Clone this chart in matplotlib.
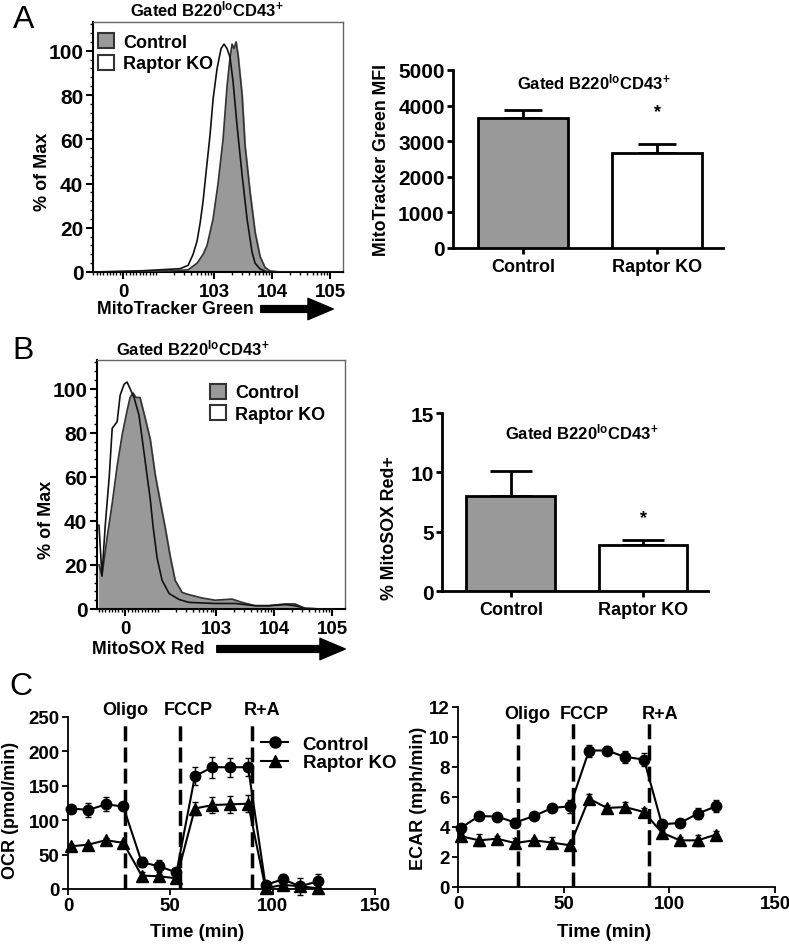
import numpy as np
import matplotlib
matplotlib.use("Agg")
import matplotlib.pyplot as plt
from matplotlib.patches import Patch
from matplotlib.lines import Line2D
from matplotlib.ticker import MultipleLocator, FixedLocator, NullFormatter

plt.rcParams['font.family'] = ['Liberation Sans', 'DejaVu Sans']
plt.rcParams['font.weight'] = 'bold'
plt.rcParams['axes.labelweight'] = 'bold'
plt.rcParams['mathtext.fontset'] = 'custom'
plt.rcParams['mathtext.rm'] = 'Liberation Sans:bold'
plt.rcParams['mathtext.it'] = 'Liberation Sans:bold'
plt.rcParams['mathtext.bf'] = 'Liberation Sans:bold'

W, H = 789, 945
GATE = r'Gated B220$^{\mathrm{lo}}$CD43$^{\mathrm{+}}$'
GREY = '#999999'

groups = ['Control', 'Raptor KO']

# A: MitoTracker Green histograms (fluorescence, % of max)
mtg_ctrl_x = [-90, 51, 174, 356, 508, 645, 755, 959, 1169, 1426, 1671, 1884, 2037,
              2208, 2388, 2588, 3034, 3414, 4169, 5082, 6194, 7551, 9204, 13700, 170000]
mtg_ctrl_y = [0, 0.3, 0.5, 1, 4, 8, 12, 24, 40, 60, 84, 97, 103,
              101, 104, 98, 80, 57, 36, 18, 7, 2, 0.5, 0, 0]
mtg_ko_x = [-90, 51, 117, 259, 356, 434, 508, 573, 645, 726, 851, 959, 1125, 1318,
            1483, 1671, 1884, 2123, 2489, 3034, 3698, 4508, 5082, 6194, 8185, 170000]
mtg_ko_y = [0, 0.5, 1, 1.5, 3, 8, 14, 22, 32, 45, 62, 78, 92, 101,
            103, 101, 97, 86, 66, 44, 24, 9, 4, 1.4, 0, 0]

# B: MitoSOX Red histograms
msx_ctrl_x = [-79, -70, -54, -39, -24, -9, 6, 15, 24, 33, 45, 60, 76, 91, 108, 132, 161,
              196, 259, 341, 573, 959, 1884, 2800, 4690, 8185, 15450, 22960, 34120, 67100]
msx_ctrl_y = [20, 15, 33, 48, 65, 79, 90, 96, 98, 96, 96, 87, 77, 61, 49, 37, 24,
              13, 7.5, 6.5, 5, 4, 4.5, 3, 1.5, 1.5, 2.3, 2.3, 0.3, 0]
msx_ko_x = [-79, -70, -60, -48, -39, -24, -15, -3, 6, 15, 27, 42, 51, 67, 76, 85, 97, 117,
            155, 230, 341, 959, 2123, 4690, 8185, 15450, 22960, 34120, 67100]
msx_ko_y = [38, 15, 38, 60, 82, 85, 97, 102, 103, 100, 96, 88, 78, 60, 50, 37, 23, 13,
            7, 4.3, 3, 2.5, 2.5, 1.5, 1.5, 2, 1.5, 0.3, 0]

# bar summaries
mtg_mfi = [3660, 2670]
mtg_mfi_sem = [225, 245]
msx_pct = [8.0, 3.9]
msx_pct_sem = [2.1, 0.42]

# C: Seahorse traces
seahorse_time = [1.5, 10, 18.5, 27, 36, 44.5, 53, 62, 70.5, 79, 88, 96.5, 105, 113.5, 122]
ocr_ctrl = [117, 115, 123, 120, 39, 33, 24, 164, 177, 177, 177, 6, 14, 4, 11]
ocr_ctrl_sem = [4, 10, 10, 5, 7, 9, 5, 13, 15, 14, 13, 5, 8, 12, 11]
ocr_ko = [62, 64.5, 71, 67, 19.5, 18.5, 15.5, 117, 122, 123, 124, 1, 6, 4, 1]
ocr_ko_sem = [3, 3, 3, 3, 5, 4, 4, 10, 12, 12, 12, 2, 2, 2, 2]
ecar_ctrl = [3.96, 4.73, 4.7, 4.3, 4.73, 5.27, 5.38, 9.1, 9.1, 8.67, 8.5, 4.18, 4.27, 4.89, 5.38]
ecar_ctrl_sem = [0.25, 0.2, 0.2, 0.3, 0.2, 0.2, 0.45, 0.4, 0.3, 0.4, 0.45, 0.2, 0.15, 0.35, 0.4]
ecar_ko = [3.38, 3.11, 3.22, 2.93, 3.11, 2.96, 2.78, 5.89, 5.27, 5.33, 5.0, 3.62, 3.11, 3.11, 3.49]
ecar_ko_sem = [0.2, 0.4, 0.2, 0.35, 0.15, 0.35, 0.15, 0.3, 0.2, 0.35, 0.25, 0.15, 0.25, 0.35, 0.25]
injections = ['Oligo', 'FCCP', 'R+A']
ocr_inj_time = [28, 54.7, 90]
ecar_inj_time = [28.4, 54.5, 90.5]


def rect(x0, y0, x1, y1):
    # pixel box (top-left origin) -> figure fraction
    return [x0 / W, 1 - y1 / H, (x1 - x0) / W, (y1 - y0) / H]


def flow_hist(ax, cx, cy, kx, ky, xmin):
    ax.set_xscale('symlog', linthresh=100, linscale=0.513)
    ax.fill_between(kx, ky, color='white', zorder=1)
    ax.fill_between(cx, cy, color=GREY, zorder=2)
    ax.plot(cx, cy, color='#333333', lw=1.2, zorder=3)
    ax.plot(kx, ky, color='#111111', lw=1.2, zorder=3)
    ax.set_xlim(xmin, 1.67e5)
    ax.set_ylim(0, 113)
    ax.xaxis.set_major_locator(FixedLocator([0, 1e3, 1e4, 1e5]))
    ax.set_xticklabels(['0', '103', '104', '105'])
    minors = [s * v for v in range(10, 100, 10) for s in (-1, 1)]
    minors += [m * 10 ** e for e in (2, 3, 4) for m in range(1, 10)]
    ax.xaxis.set_minor_locator(FixedLocator(minors))
    ax.xaxis.set_minor_formatter(NullFormatter())
    ax.yaxis.set_major_locator(MultipleLocator(20))
    ax.yaxis.set_minor_locator(MultipleLocator(4))
    for s in ('top', 'right'):
        ax.spines[s].set_color('#666666')
        ax.spines[s].set_linewidth(1.0)
    for s in ('left', 'bottom'):
        ax.spines[s].set_color('black')
        ax.spines[s].set_linewidth(1.5)
    ax.tick_params(which='major', direction='out', length=5, width=1.5)
    ax.tick_params(which='minor', direction='out', length=2.5, width=1)
    ax.tick_params(axis='y', labelsize=15, pad=2)
    ax.tick_params(axis='x', labelsize=13.5, pad=3)
    ax.set_ylabel('% of Max', fontsize=13)
    handles = [Patch(facecolor=GREY, edgecolor='#333333', lw=1.5, label=groups[0]),
               Patch(facecolor='white', edgecolor='#333333', lw=1.5, label=groups[1])]
    return handles


def bar_panel(ax, vals, sems, top, step, ylabel, star_y, cap):
    x = np.arange(len(groups))
    ax.bar(x, vals, width=0.67, color=[GREY, 'white'], edgecolor='black',
           linewidth=2, zorder=3)
    ax.errorbar(x, vals, yerr=[np.zeros(len(vals)), sems], fmt='none', ecolor='black',
                elinewidth=2, capsize=cap, capthick=2, zorder=2)
    ax.text(1, star_y, '*', ha='center', va='center', fontsize=13)
    ax.set_xlim(-0.52, 1.49)
    ax.set_ylim(0, top)
    ax.yaxis.set_major_locator(MultipleLocator(step))
    ax.set_xticks(x)
    ax.set_xticklabels(groups)
    for s in ('top', 'right'):
        ax.spines[s].set_visible(False)
    for s in ('left', 'bottom'):
        ax.spines[s].set_linewidth(2)
    ax.tick_params(direction='out', length=4, width=2)
    ax.tick_params(axis='y', labelsize=15, pad=2)
    ax.tick_params(axis='x', labelsize=13)
    ax.set_ylabel(ylabel, fontsize=12.8)


def seahorse(ax, ctrl, ctrl_sem, ko, ko_sem, inj_t, top, line_top, lab_x, lab_y, step, ylabel):
    ax.vlines(inj_t, 0, line_top, colors='black', linestyles=(0, (4.3, 1.8)), linewidth=2.5,
              zorder=1)
    for i, name in enumerate(injections):
        ax.text(lab_x[i], lab_y, name, ha='center', va='center', fontsize=13, clip_on=False)
    ax.errorbar(seahorse_time, ctrl, yerr=ctrl_sem, fmt='-o', color='black', ms=7.5, lw=1.5,
                capsize=2.5, elinewidth=1, capthick=1, zorder=3, clip_on=False)
    ax.errorbar(seahorse_time, ko, yerr=ko_sem, fmt='-^', color='black', ms=8, lw=1.5,
                capsize=2.5, elinewidth=1, capthick=1, zorder=3, clip_on=False)
    ax.set_xlim(0, 150)
    ax.set_ylim(0, top)
    ax.xaxis.set_major_locator(MultipleLocator(50))
    ax.yaxis.set_major_locator(MultipleLocator(step))
    for s in ('top', 'right'):
        ax.spines[s].set_visible(False)
    for s in ('left', 'bottom'):
        ax.spines[s].set_linewidth(1.3)
    ax.tick_params(direction='out', length=4, width=1.3, labelsize=13.5, pad=2)
    ax.set_ylabel(ylabel, fontsize=13)
    ax.set_xlabel('Time (min)', fontsize=13.5)


fig = plt.figure(figsize=(W / 100, H / 100), dpi=100)

# ---- A histogram ----
axA = fig.add_axes(rect(93, 23, 343, 273))
h = flow_hist(axA, mtg_ctrl_x, mtg_ctrl_y, mtg_ko_x, mtg_ko_y, -91)
axA.yaxis.set_label_coords(-0.168, 0.404)
axA.text(0.456, 1.015, GATE, transform=axA.transAxes, ha='center', va='bottom', fontsize=12)
axA.legend(handles=h, loc='upper left', bbox_to_anchor=(0.02, 0.955), frameon=False,
           handlelength=0.9, handleheight=0.9, handletextpad=0.5, labelspacing=0.2,
           borderaxespad=0, borderpad=0, fontsize=13)

# ---- A bars ----
axAb = fig.add_axes(rect(453, 71, 723, 249))
bar_panel(axAb, mtg_mfi, mtg_mfi_sem, 5000, 1000, 'MitoTracker Green MFI', 3820, 14)
axAb.yaxis.set_label_coords(-0.233, 0.5)
axAb.text(0.522, 0.938, GATE, transform=axAb.transAxes, ha='center', va='center', fontsize=12)

# ---- B histogram ----
axB = fig.add_axes(rect(97, 361, 345, 610))
h = flow_hist(axB, msx_ctrl_x, msx_ctrl_y, msx_ko_x, msx_ko_y, -85)
axB.yaxis.set_label_coords(-0.169, 0.361)
axB.text(0.387, 1.01, GATE, transform=axB.transAxes, ha='center', va='bottom', fontsize=12)
axB.legend(handles=h, loc='upper left', bbox_to_anchor=(0.455, 0.905), frameon=False,
           handlelength=0.9, handleheight=0.9, handletextpad=0.5, labelspacing=0.2,
           borderaxespad=0, borderpad=0, fontsize=13)

# ---- B bars ----
axBb = fig.add_axes(rect(442, 414, 708, 592))
bar_panel(axBb, msx_pct, msx_pct_sem, 15, 5, '% MitoSOX Red+', 6.2, 15)
axBb.yaxis.set_label_coords(-0.165, 0.36)
axBb.text(0.526, 0.899, GATE, transform=axBb.transAxes, ha='center', va='center', fontsize=12)

# ---- C: OCR ----
axC1 = fig.add_axes(rect(68, 718, 375, 890))
seahorse(axC1, ocr_ctrl, ocr_ctrl_sem, ocr_ko, ocr_ko_sem, ocr_inj_time, 250, 246,
         [28, 59, 95], 261, 50, 'OCR (pmol/min)')
axC1.yaxis.set_label_coords(-0.158, 0.46)
axC1.xaxis.set_label_coords(0.42, -0.2)
lh = [Line2D([0], [0], color='black', marker='o', ms=8, lw=1.5, label=groups[0]),
      Line2D([0], [0], color='black', marker='^', ms=8.5, lw=1.5, label=groups[1])]
axC1.legend(handles=lh, loc='upper left', bbox_to_anchor=(0.63, 0.89), frameon=False,
            handlelength=1.4, handletextpad=0.8, labelspacing=0.05, borderaxespad=0,
            borderpad=0, fontsize=13.5)

# ---- C: ECAR ----
axC2 = fig.add_axes(rect(458, 708, 775, 888))
seahorse(axC2, ecar_ctrl, ecar_ctrl_sem, ecar_ko, ecar_ko_sem, ecar_inj_time, 12, 11.2,
         [33, 60, 95.5], 11.56, 2, 'ECAR (mph/min)')
axC2.yaxis.set_label_coords(-0.098, 0.5)
axC2.xaxis.set_label_coords(0.46, -0.2)

# ---- panel letters, axis names with arrows ----
for letter, (px, py) in zip('ABC', [(24, 20), (23, 351), (21, 687)]):
    fig.text(px / W, 1 - py / H, letter, fontsize=23, fontweight='normal',
             ha='center', va='center')

for label, x0, y0, a0, a1 in [('MitoTracker Green', 97, 310, 258, 336),
                              ('MitoSOX Red', 92, 650, 214, 348)]:
    fig.text(x0 / W, 1 - y0 / H, label, fontsize=12.8, ha='left', va='center')
    fig.patches.append(matplotlib.patches.FancyArrowPatch(
        (a0 / W, 1 - y0 / H), (a1 / W, 1 - y0 / H), transform=fig.transFigure,
        arrowstyle='simple,head_length=1.3,head_width=1.1,tail_width=0.35',
        mutation_scale=14, color='black'))

fig.savefig('out.png', dpi=100)
